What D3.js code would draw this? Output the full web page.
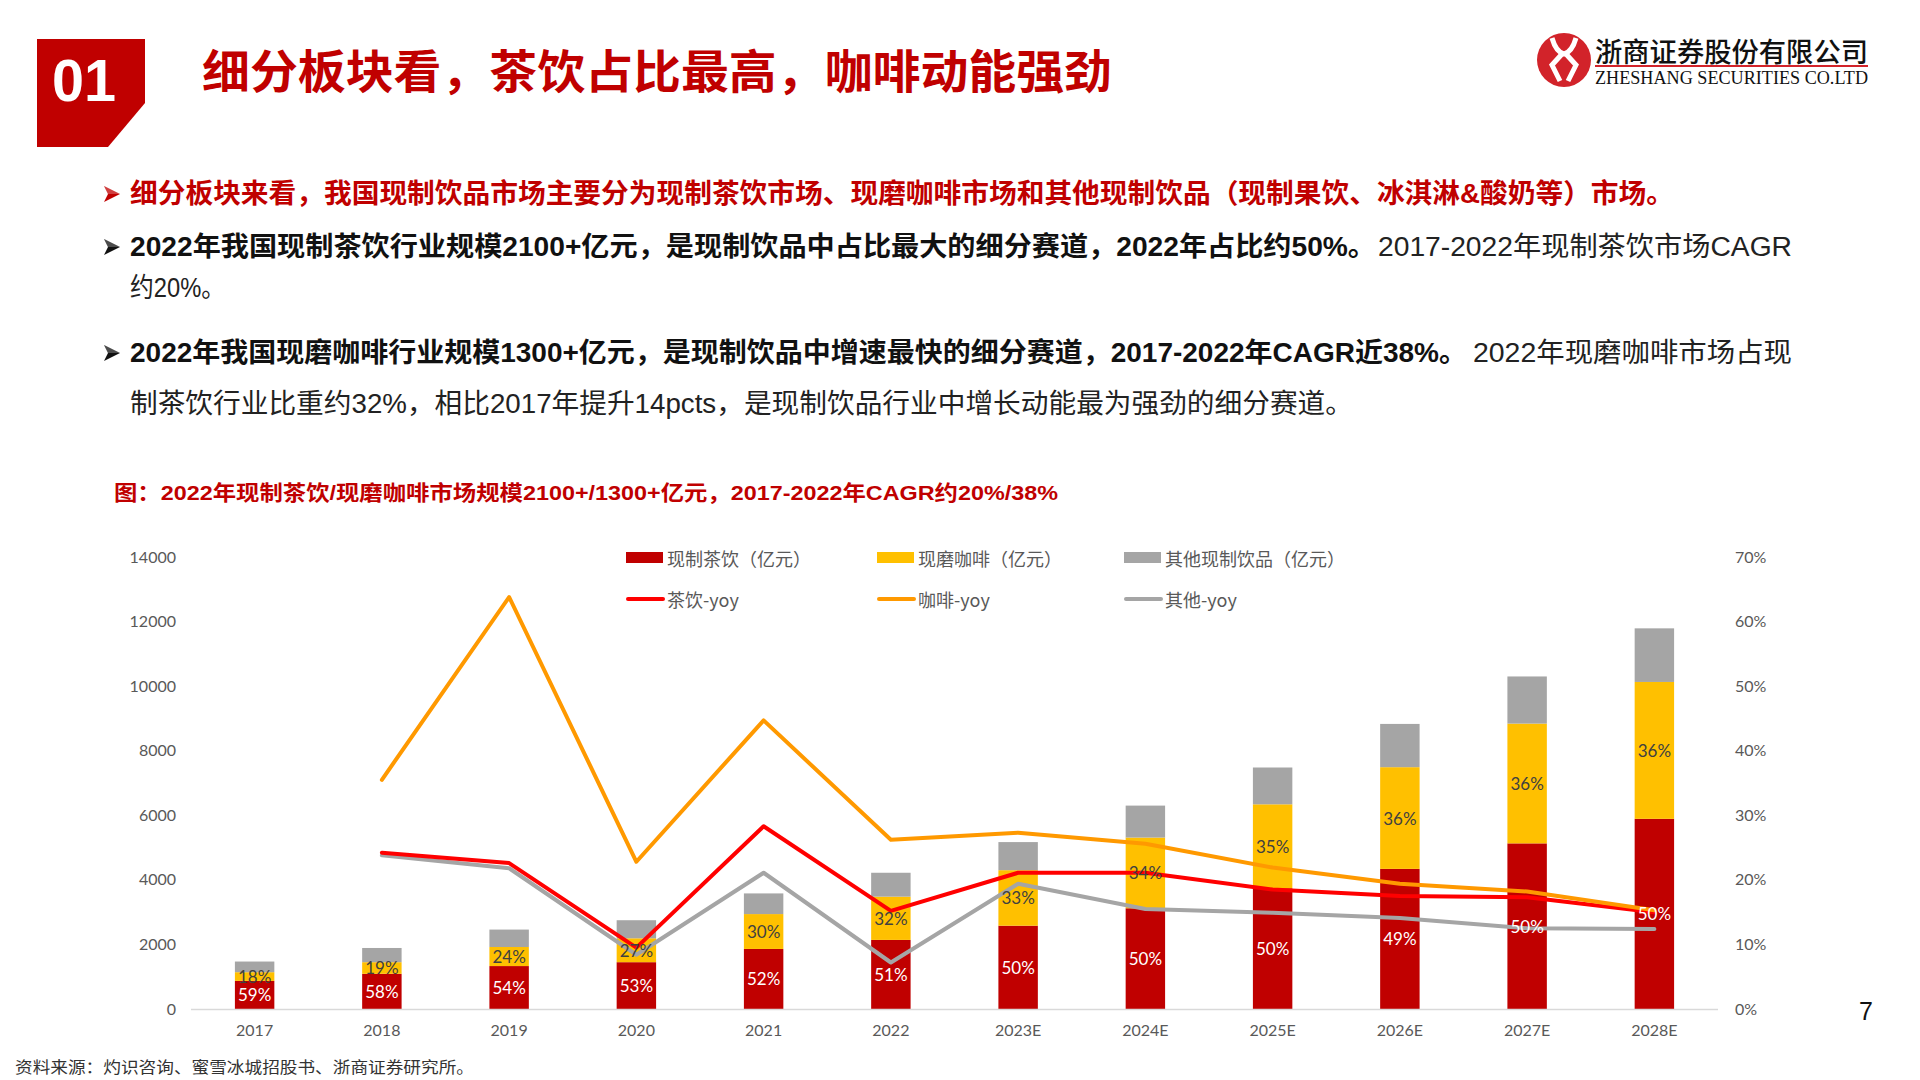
<!DOCTYPE html>
<html>
<head>
<meta charset="utf-8">
<script src="https://cdn.jsdelivr.net/npm/d3@7"></script>
<style>
  html, body { margin: 0; padding: 0; background: #fff; }
  svg { display: block; }
</style>
</head>
<body>
<svg id="chart" width="1920" height="1080"></svg>
<script>
// ---------- DATA ----------
const years = ["2017","2018","2019","2020","2021","2022","2023E","2024E","2025E","2026E","2027E","2028E"];
const teaValues    = [870, 1090, 1330, 1450, 1860, 2140, 2580, 3120, 3740, 4340, 5130, 5890];
const coffeeValues = [270,  360,  590,  740, 1080, 1340, 1720, 2190, 2600, 3150, 3710, 4240];
const otherValues  = [330,  440,  540,  560,  640,  740,  870,  990, 1140, 1340, 1460, 1660];
const teaShareLabels    = ["59%","58%","54%","53%","52%","51%","50%","50%","50%","49%","50%","50%"];
const coffeeShareLabels = ["18%","19%","24%","27%","30%","32%","33%","34%","35%","36%","36%","36%"];
const teaYoy    = [null, 24.2, 22.6,  9.5, 28.3, 15.2, 21.1, 21.1, 18.5, 17.5, 17.3, 15.0];
const coffeeYoy = [null, 35.5, 63.8, 22.8, 44.7, 26.2, 27.3, 25.6, 21.9, 19.4, 18.2, 15.3];
const otherYoy  = [null, 23.8, 21.8,  8.4, 21.1,  7.2, 19.4, 15.5, 14.9, 14.1, 12.5, 12.4];
const leftTicks  = [0, 2000, 4000, 6000, 8000, 10000, 12000, 14000];
const rightTicks = [0, 10, 20, 30, 40, 50, 60, 70];
const barSeriesNames  = ["现制茶饮（亿元）", "现磨咖啡（亿元）", "其他现制饮品（亿元）"];
const lineSeriesNames = ["茶饮-yoy", "咖啡-yoy", "其他-yoy"];

// ---------- STYLE ----------
const barColors  = ["#C00000", "#FFC000", "#A5A5A5"];
const lineColors = ["#FF0000", "#FF9900", "#A5A5A5"];
const RED = "#C00000";
const CJK = "'Liberation Sans','Noto Sans CJK SC',sans-serif";
const AX = "Lato,'Noto Sans CJK SC',sans-serif";

const svg = d3.select("#chart");

// ---------- HEADER ----------
svg.append("polygon")
  .attr("points", "37,39 145,39 145,103 108,147 37,147")
  .attr("fill", RED);
svg.append("text").attr("x", 84).attr("y", 101)
  .attr("text-anchor", "middle")
  .attr("font-family", "'Liberation Sans',Arial,sans-serif")
  .attr("font-weight", 700).attr("font-size", 60).attr("fill", "#fff")
  .attr("textLength", 64).attr("lengthAdjust", "spacingAndGlyphs")
  .text("01");
svg.append("text").attr("x", 202).attr("y", 72)
  .attr("dominant-baseline", "central")
  .attr("font-family", CJK).attr("font-weight", 700).attr("font-size", 46)
  .attr("fill", RED)
  .attr("textLength", 910).attr("lengthAdjust", "spacingAndGlyphs")
  .text("细分板块看，茶饮占比最高，咖啡动能强劲");

// logo
const lg = svg.append("g");
const cx = 1564, cy = 60;
lg.append("circle").attr("cx", cx).attr("cy", cy).attr("r", 27).attr("fill", "#D2232A");
const emb = lg.append("g").attr("fill", "none").attr("stroke", "#fff").attr("stroke-width", 5)
  .attr("stroke-linejoin", "miter");
emb.append("path").attr("d", `M${cx-12},${cy-22} Q${cx-8},${cy-8} ${cx},${cy-6} Q${cx+8},${cy-8} ${cx+12},${cy-22}`);
emb.append("path").attr("d", `M${cx-2},${cy-6} L${cx-12},${cy+5} L${cx-4},${cy+21}`);
emb.append("path").attr("d", `M${cx+2},${cy-6} L${cx+12},${cy+5} L${cx+4},${cy+21}`);
lg.append("text").attr("x", 1595).attr("y", 50)
  .attr("dominant-baseline", "central")
  .attr("font-family", "'Noto Sans CJK SC',sans-serif").attr("font-weight", 500).attr("font-size", 27)
  .attr("fill", "#111").attr("textLength", 273).attr("lengthAdjust", "spacingAndGlyphs")
  .text("浙商证券股份有限公司");
lg.append("line").attr("x1", 1595).attr("x2", 1868).attr("y1", 66).attr("y2", 66)
  .attr("stroke", "#D2232A").attr("stroke-width", 2);
lg.append("text").attr("x", 1595).attr("y", 84)
  .attr("font-family", "'Liberation Serif','Times New Roman',serif").attr("font-size", 19)
  .attr("fill", "#111").attr("textLength", 273).attr("lengthAdjust", "spacingAndGlyphs")
  .text("ZHESHANG SECURITIES CO.LTD");

// ---------- BULLETS ----------
function arrow(y, color) {
  const x0 = 104;
  svg.append("path")
    .attr("d", `M${x0},${y-8} L${x0+16},${y} L${x0},${y+8} L${x0+4},${y} Z`)
    .attr("fill", color);
  svg.append("path")
    .attr("d", `M${x0},${y-8} L${x0+16},${y} L${x0+4},${y} Z`)
    .attr("fill", "#fff").attr("opacity", 0.25);
}
function seg(x, y, w, txt, weight, color) {
  svg.append("text").attr("x", x).attr("y", y).attr("dominant-baseline", "central")
    .attr("font-family", CJK).attr("font-weight", weight).attr("font-size", 27)
    .attr("fill", color).attr("textLength", w).attr("lengthAdjust", "spacingAndGlyphs")
    .text(txt);
}
arrow(194, RED);
seg(130, 194, 1544, "细分板块来看，我国现制饮品市场主要分为现制茶饮市场、现磨咖啡市场和其他现制饮品（现制果饮、冰淇淋&酸奶等）市场。", 700, RED);
arrow(247, "#111");
seg(130, 247, 1246, "2022年我国现制茶饮行业规模2100+亿元，是现制饮品中占比最大的细分赛道，2022年占比约50%。", 700, "#111");
seg(1378, 247, 414, "2017-2022年现制茶饮市场CAGR", 400, "#222");
seg(130, 288, 95, "约20%。", 400, "#222");
arrow(353, "#111");
seg(130, 353, 1337, "2022年我国现磨咖啡行业规模1300+亿元，是现制饮品中增速最快的细分赛道，2017-2022年CAGR近38%。", 700, "#111");
seg(1473, 353, 319, "2022年现磨咖啡市场占现", 400, "#222");
seg(130, 404, 1223, "制茶饮行业比重约32%，相比2017年提升14pcts，是现制饮品行业中增长动能最为强劲的细分赛道。", 400, "#222");

// chart title
svg.append("text").attr("x", 114).attr("y", 492).attr("dominant-baseline", "central")
  .attr("font-family", CJK).attr("font-weight", 700).attr("font-size", 21)
  .attr("fill", RED).attr("textLength", 944).attr("lengthAdjust", "spacingAndGlyphs")
  .text("图：2022年现制茶饮/现磨咖啡市场规模2100+/1300+亿元，2017-2022年CAGR约20%/38%");

// ---------- CHART ----------
const x = d3.scaleBand().domain(years).range([191, 1718]).paddingInner(0.69).paddingOuter(0.345);
const yL = d3.scaleLinear().domain([0, 14000]).range([1009, 557]);
const yR = d3.scaleLinear().domain([0, 70]).range([1009, 557]);

const rows = years.map((yr, i) => ({ year: yr, tea: teaValues[i], coffee: coffeeValues[i], other: otherValues[i] }));
const keys = ["tea", "coffee", "other"];
const stacked = d3.stack().keys(keys)(rows);

// axes
const gL = svg.append("g").attr("transform", "translate(191,0)")
  .call(d3.axisLeft(yL).tickValues(leftTicks).tickSize(0).tickPadding(15).tickFormat(d3.format("d")));
const gR = svg.append("g").attr("transform", "translate(1718,0)")
  .call(d3.axisRight(yR).tickValues(rightTicks).tickSize(0).tickPadding(17).tickFormat(d => d + "%"));
const gB = svg.append("g").attr("transform", "translate(0,1009)")
  .call(d3.axisBottom(x).tickSize(0).tickPadding(16));
[gL, gR, gB].forEach(g => {
  g.select(".domain").remove();
  g.selectAll("text").attr("font-family", AX).attr("font-size", 16).attr("fill", "#595959");
});

// bars
stacked.forEach((layer, k) => {
  svg.append("g").selectAll("rect").data(layer).enter().append("rect")
    .attr("x", d => x(d.data.year))
    .attr("width", x.bandwidth())
    .attr("y", d => yL(d[1]))
    .attr("height", d => yL(d[0]) - yL(d[1]))
    .attr("fill", barColors[k]);
});

// baseline
svg.append("line").attr("x1", 191).attr("x2", 1718).attr("y1", 1009.5).attr("y2", 1009.5)
  .attr("stroke", "#D9D9D9").attr("stroke-width", 1.5);

// lines
const lineGen = d3.line()
  .defined(d => d.v != null)
  .x(d => x(d.year) + x.bandwidth() / 2)
  .y(d => yR(d.v));
const lineData = [teaYoy, coffeeYoy, otherYoy].map(arr => years.map((yr, i) => ({ year: yr, v: arr[i] })));
[2, 0, 1].forEach(k => {
  svg.append("path").datum(lineData[k])
    .attr("d", lineGen)
    .attr("fill", "none").attr("stroke", lineColors[k]).attr("stroke-width", 4)
    .attr("stroke-linejoin", "round").attr("stroke-linecap", "round");
});

// data labels
const lbl = svg.append("g").attr("font-family", AX).attr("font-size", 17).attr("text-anchor", "middle");
lbl.selectAll(".t").data(stacked[0]).enter().append("text")
  .attr("x", d => x(d.data.year) + x.bandwidth() / 2)
  .attr("y", d => (yL(d[0]) + yL(d[1])) / 2)
  .attr("dominant-baseline", "central").attr("fill", "#fff")
  .text((d, i) => teaShareLabels[i]);
lbl.selectAll(".c").data(stacked[1]).enter().append("text")
  .attr("x", d => x(d.data.year) + x.bandwidth() / 2)
  .attr("y", d => (yL(d[0]) + yL(d[1])) / 2)
  .attr("dominant-baseline", "central").attr("fill", "#404040")
  .text((d, i) => coffeeShareLabels[i]);

// legend
const legX = [626, 877, 1124];
const leg = svg.append("g").attr("font-family", "'Noto Sans CJK SC',sans-serif").attr("font-size", 18).attr("fill", "#595959");
barSeriesNames.forEach((n, i) => {
  leg.append("rect").attr("x", legX[i]).attr("y", 552).attr("width", 37).attr("height", 11).attr("fill", barColors[i]);
  leg.append("text").attr("x", legX[i] + 41).attr("y", 558).attr("dominant-baseline", "central").text(n);
});
lineSeriesNames.forEach((n, i) => {
  leg.append("line").attr("x1", legX[i] + 2).attr("x2", legX[i] + 37).attr("y1", 599).attr("y2", 599)
    .attr("stroke", lineColors[i]).attr("stroke-width", 4).attr("stroke-linecap", "round");
  leg.append("text").attr("x", legX[i] + 41).attr("y", 599).attr("dominant-baseline", "central").text(n);
});

// footer
svg.append("text").attr("x", 15).attr("y", 1066).attr("dominant-baseline", "central")
  .attr("font-family", "'Noto Sans CJK SC',sans-serif").attr("font-size", 16).attr("fill", "#333")
  .attr("textLength", 459).attr("lengthAdjust", "spacingAndGlyphs")
  .text("资料来源：灼识咨询、蜜雪冰城招股书、浙商证券研究所。");
svg.append("text").attr("x", 1866).attr("y", 1011).attr("dominant-baseline", "central")
  .attr("text-anchor", "middle").attr("font-family", "'Liberation Sans',sans-serif")
  .attr("font-size", 25).attr("fill", "#111").text("7");
</script>
</body>
</html>
